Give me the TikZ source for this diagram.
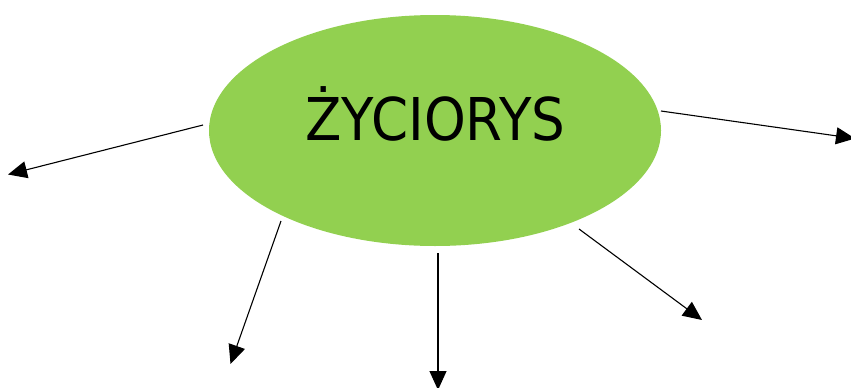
\documentclass[tikz,border=0pt]{standalone}
\usepackage{fontspec}
\usetikzlibrary{arrows.meta,shapes.geometric}
\newfontfamily\titlefont[FakeStretch=0.9]{DejaVu Sans}
\definecolor{leafgreen}{RGB}{146,208,80}
\tikzset{
  spoke/.style={line width=1.1pt,-{Triangle[length=19pt,width=17pt]}},
}

\begin{document}
\begin{tikzpicture}[x=1pt,y=-1pt]
			%%%%% START %%%%%
			\useasboundingbox (0,0) rectangle (851,388);
			
			\node[ellipse,fill=leafgreen,minimum width=452pt,minimum height=231pt,inner sep=0pt] (bubble) at (435,130.5) {};
			\node[anchor=base,inner sep=0pt,font=\titlefont\fontsize{59}{60}\selectfont] (title) at (435.5,140) {ŻYCIORYS};
			
			% starts beside the bubble
			\coordinate (s1) at (203,125);
			\coordinate (s2) at (661,111);
			\coordinate (s3) at (281,221);
			\coordinate (s4) at (438,253);
			\coordinate (s5) at (579,229);
			
			% free ends
			\coordinate (e1) at (8,174.5);
			\coordinate (e2) at (855,138.5);
			\coordinate (e3) at (230.5,364);
			\coordinate (e4) at (438,390);
			\coordinate (e5) at (702,320);
			
			\draw[spoke] (s1) -- (e1);
			\draw[spoke] (s2) -- (e2);
			\draw[spoke] (s3) -- (e3);
			\draw[spoke] (s4) -- (e4);
			\draw[spoke] (s5) -- (e5);
			%%%%% END %%%%%
		\end{tikzpicture}
\end{document}
